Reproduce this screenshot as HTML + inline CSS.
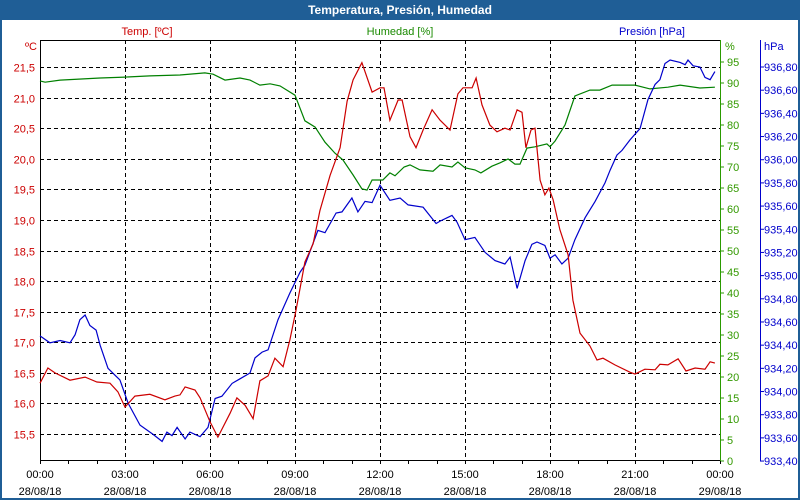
<!DOCTYPE html>
<html><head><meta charset="utf-8">
<style>
html,body{margin:0;padding:0;background:#fff;}
#wrap{width:800px;height:500px;position:relative;overflow:hidden;font-family:"Liberation Sans",sans-serif;}
svg text{font-family:"Liberation Sans",sans-serif;font-size:11px;}
</style></head>
<body>
<div id="wrap">
<svg id="chart" width="800" height="500" viewBox="0 0 800 500">
  <rect x="1" y="1" width="798" height="498" fill="#fff" stroke="#1f5e96" stroke-width="2"/>
  <rect x="0" y="0" width="800" height="20" fill="#1f5e96"/>
  <text x="400" y="14" text-anchor="middle" fill="#fff" font-weight="bold" style="font-size:12px">Temperatura, Presión, Humedad</text>
  <text x="147" y="35" text-anchor="middle" fill="#cc0000">Temp. [ºC]</text>
  <text x="400" y="35" text-anchor="middle" fill="#1a8a00">Humedad [%]</text>
  <text x="685" y="35" text-anchor="end" fill="#0000cc">Presión [hPa]</text>
  <text x="37" y="50" text-anchor="end" fill="#cc0000">ºC</text>
  <text x="725" y="50" fill="#339900">%</text>
  <text x="764" y="50" fill="#0000cc">hPa</text>
  <g id="grid"></g>
  <g id="axes"></g>
  <g id="series"></g>
</svg>
</div>
<script>
const tempTimes=[0,0.28,0.53,1.06,1.59,2.01,2.47,2.75,3.00,3.35,3.88,4.41,4.76,4.94,5.12,5.47,5.65,6.00,6.28,6.71,6.95,7.24,7.52,7.76,8.05,8.29,8.58,8.82,9.04,9.35,9.64,9.88,10.24,10.59,10.84,11.05,11.36,11.72,12.00,12.14,12.35,12.64,12.78,13.06,13.27,13.52,13.84,14.12,14.47,14.75,14.93,15.25,15.39,15.60,15.88,16.13,16.41,16.59,16.84,17.01,17.15,17.33,17.47,17.65,17.82,17.96,18.11,18.35,18.64,18.81,19.06,19.41,19.66,19.87,20.29,20.82,21.00,21.35,21.71,21.88,22.16,22.52,22.80,23.12,23.47,23.65,23.82];
const tempValues=[16.33,16.58,16.50,16.38,16.43,16.35,16.33,16.19,15.94,16.12,16.15,16.06,16.12,16.14,16.27,16.22,16.09,15.70,15.45,15.84,16.09,15.97,15.75,16.37,16.45,16.74,16.60,17.04,17.53,18.31,18.61,19.15,19.73,20.18,20.94,21.29,21.57,21.09,21.16,21.16,20.63,20.96,20.96,20.36,20.18,20.47,20.80,20.63,20.47,21.06,21.16,21.16,21.32,20.88,20.55,20.44,20.50,20.47,20.80,20.76,20.18,20.47,20.50,19.65,19.41,19.52,19.33,18.84,18.43,17.69,17.15,16.94,16.71,16.74,16.63,16.51,16.48,16.56,16.55,16.64,16.63,16.73,16.53,16.58,16.56,16.68,16.66];
const humTimes=[0,0.18,0.71,2.12,3.00,3.88,4.94,5.82,6.11,6.53,7.06,7.41,7.76,8.12,8.47,9.00,9.35,9.71,10.06,10.41,10.69,11.05,11.36,11.54,11.72,12.10,12.35,12.53,12.85,13.06,13.41,13.87,14.12,14.54,14.75,15.00,15.35,15.56,15.95,16.24,16.52,16.76,16.94,17.19,17.47,17.89,18.00,18.18,18.53,18.88,19.41,19.76,20.19,21.00,21.53,22.16,22.59,23.29,23.82];
const humValues=[90.5,90.2,90.7,91.2,91.4,91.7,91.9,92.4,92.1,90.7,91.2,90.7,89.5,89.8,89.3,87.1,81.0,79.5,75.9,73.3,71.7,68.1,64.8,64.5,66.9,66.9,68.6,67.9,70.0,70.5,69.3,69.0,70.5,70.0,71.2,69.8,69.3,68.6,70.2,71.0,71.9,70.7,70.7,74.5,74.8,75.5,74.8,76.2,80.0,86.9,88.3,88.3,89.5,89.5,88.6,89.0,89.5,88.8,89.0];
const presTimes=[0,0.35,0.71,1.06,1.24,1.41,1.59,1.76,1.98,2.12,2.40,2.65,2.82,3.11,3.53,3.99,4.31,4.48,4.66,4.84,5.12,5.29,5.65,5.93,6.18,6.42,6.78,7.06,7.41,7.59,7.84,8.05,8.40,8.82,9.18,9.35,9.81,10.06,10.45,10.66,11.01,11.22,11.47,11.72,12.00,12.35,12.71,12.99,13.52,13.98,14.12,14.54,14.72,15.00,15.35,15.71,16.06,16.41,16.59,16.84,17.12,17.36,17.54,17.82,18.00,18.18,18.42,18.64,18.88,19.24,19.59,19.94,20.12,20.36,20.54,20.82,21.18,21.46,21.71,21.88,22.06,22.24,22.59,22.77,22.87,23.05,23.29,23.47,23.65,23.82];
const presValues=[934.48,934.42,934.44,934.42,934.49,934.62,934.66,934.57,934.53,934.40,934.20,934.14,934.10,933.90,933.71,933.63,933.57,933.65,933.62,933.69,933.59,933.65,933.61,933.69,933.94,933.96,934.07,934.11,934.16,934.29,934.34,934.36,934.62,934.85,935.03,935.09,935.39,935.37,935.54,935.55,935.67,935.55,935.64,935.63,935.78,935.65,935.67,935.61,935.59,935.45,935.47,935.52,935.46,935.31,935.33,935.20,935.13,935.10,935.16,934.89,935.13,935.27,935.29,935.26,935.15,935.18,935.10,935.15,935.31,935.50,935.64,935.80,935.91,936.04,936.08,936.17,936.27,936.52,936.65,936.69,936.83,936.86,936.84,936.82,936.86,936.81,936.80,936.71,936.69,936.76];
const tempTicks=["15,5","16,0","16,5","17,0","17,5","18,0","18,5","19,0","19,5","20,0","20,5","21,0","21,5"];
const humTicks=["0","5","10","15","20","25","30","35","40","45","50","55","60","65","70","75","80","85","90","95"];
const presTicks=["933,40","933,60","933,80","934,00","934,20","934,40","934,60","934,80","935,00","935,20","935,40","935,60","935,80","936,00","936,20","936,40","936,60","936,80"];
const timeLabels=["00:00","03:00","06:00","09:00","12:00","15:00","18:00","21:00","00:00"];
const dateLabels=["28/08/18","28/08/18","28/08/18","28/08/18","28/08/18","28/08/18","28/08/18","28/08/18","29/08/18"];

const L=40,R=720,T=40,B=460;
const xS=h=>L+h*(R-L)/24;
const yT=v=>67+(21.5-v)*61.17;
const yH=v=>461-v*4.2;
const yP=v=>67+(936.8-v)*115.9;
const NS="http://www.w3.org/2000/svg";
function mk(tag,attrs,parent){const e=document.createElementNS(NS,tag);for(const k in attrs)e.setAttribute(k,attrs[k]);parent.appendChild(e);return e;}
const grid=document.getElementById('grid'),axes=document.getElementById('axes'),series=document.getElementById('series');
const num=s=>parseFloat(s.replace(',','.'));

tempTicks.forEach(t=>{const y=Math.round(yT(num(t)))+0.5;
  const g=mk('line',{x1:L,x2:R,y1:y,y2:y,stroke:'#000','stroke-dasharray':'4,3','stroke-width':1},grid);
  
  
  const tx=mk('text',{x:35,y:y+4,'text-anchor':'end',fill:'#cc0000'},axes);tx.textContent=t;
  
  
});
for(let h=3;h<24;h+=3){const x=Math.round(xS(h))+0.5;
  const g=mk('line',{x1:x,x2:x,y1:T,y2:B,stroke:'#000','stroke-dasharray':'4,3','stroke-width':1},grid);
  
  
}
humTicks.forEach(t=>{const y=yH(num(t));
  const tx=mk('text',{x:727,y:y+4,fill:'#339900'},axes);tx.textContent=t;
  
  
  const tk=mk('line',{x1:720,x2:724,y1:y,y2:y,stroke:'#2a9a00'},axes);
  
  
});
presTicks.forEach(t=>{const y=yP(num(t));
  const tx=mk('text',{x:764,y:y+4,fill:'#0000cc'},axes);tx.textContent=t;
  
  
  const tk=mk('line',{x1:760,x2:764,y1:y,y2:y,stroke:'#0000cc'},axes);
  
  
});
for(let h=0;h<=24;h++){const x=Math.round(xS(h))+0.5;
  const tk=mk('line',{x1:x,x2:x,y1:B,y2:B+4,stroke:'#000'},axes);
  
  
}
timeLabels.forEach((t,i)=>{const x=xS(i*3);
  const a=mk('text',{x:x,y:478,'text-anchor':'middle',fill:'#000'},axes);a.textContent=t;
  
  
  const b=mk('text',{x:x,y:495,'text-anchor':'middle',fill:'#000'},axes);b.textContent=dateLabels[i];
  
  
});
const frame=mk('path',{d:`M${R} ${T+0.5}H${L+0.5}V${B+0.5}H${R}`,fill:'none',stroke:'#000'},axes);


const ha=mk('line',{x1:720.5,x2:720.5,y1:T,y2:B+1,stroke:'#2a9a00'},axes);


const pa=mk('line',{x1:760.5,x2:760.5,y1:T,y2:B+1,stroke:'#0000cc'},axes);



function line(ts,vs,ys,color,name){
  const pts=ts.map((t,i)=>xS(t).toFixed(1)+','+ys(vs[i]).toFixed(1)).join(' ');
  const p=mk('polyline',{points:pts,fill:'none',stroke:color,'stroke-width':1.2},series);
  
  
}
line(humTimes,humValues,yH,'#008000','humidity-line');
line(presTimes,presValues,yP,'#0000cc','pressure-line');
line(tempTimes,tempValues,yT,'#cc0000','temperature-line');
</script>
</body></html>
